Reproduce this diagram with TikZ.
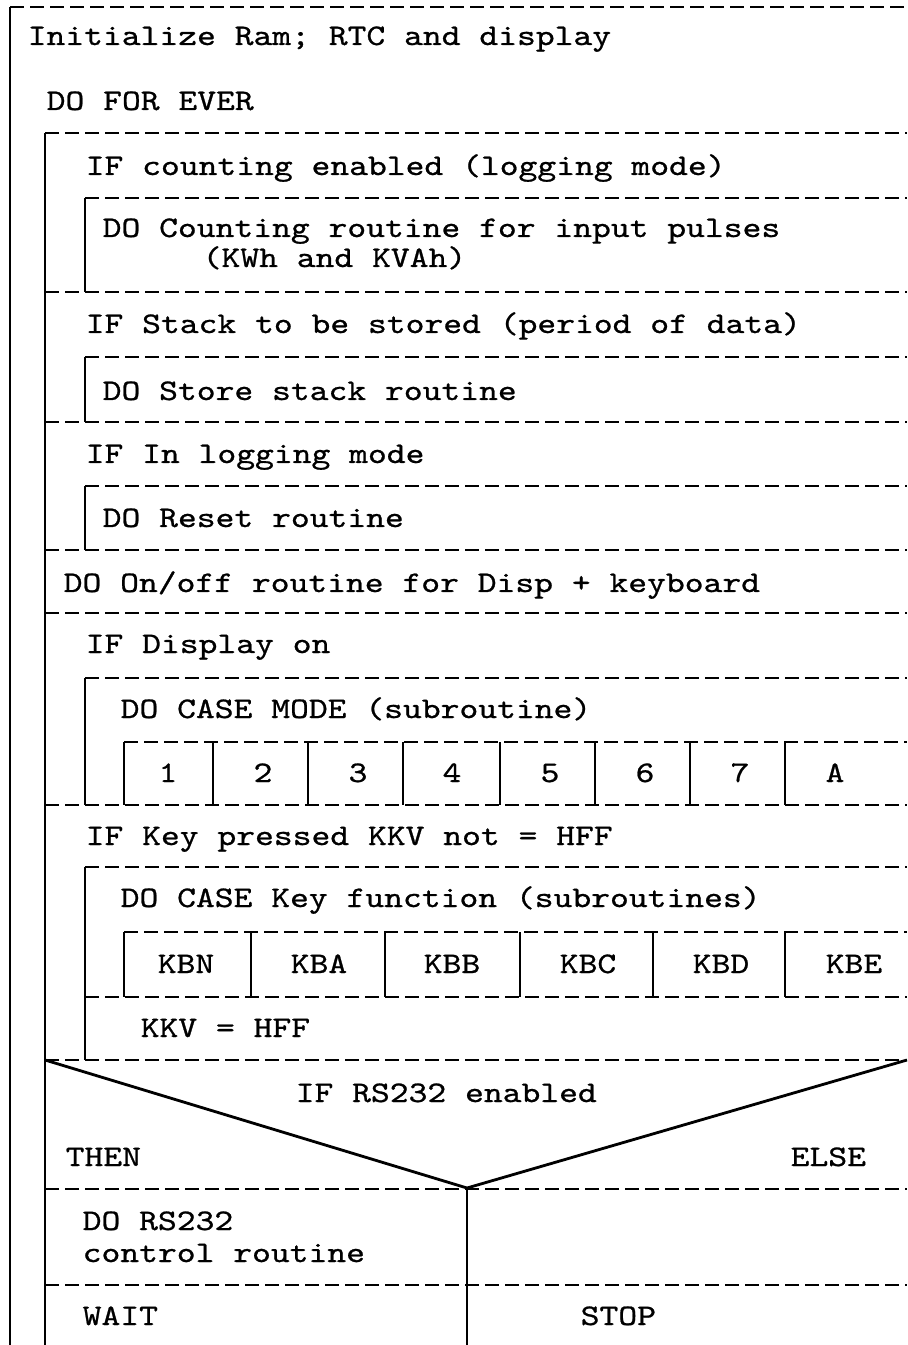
\documentclass[tikz,border=0pt]{standalone}
\usepackage{fontspec}
\setmonofont{lmmono10-regular}[Extension=.otf, FakeStretch=1.2, FakeBold=0.8]
\usetikzlibrary{positioning}

\begin{document}
\begin{tikzpicture}[
  x=0.1mm, y=-0.1mm,
  font=\ttfamily\fontsize{8.5pt}{9.1pt}\selectfont,
  txt/.style={anchor=base west, inner sep=0pt},
  lbl/.style={anchor=base, inner sep=0pt},
  rule/.style={line width=0.8pt},
  dl/.style={line width=0.7pt, dash pattern=on 1.4mm off 0.6mm}
]
\useasboundingbox (0,0) rectangle (907,1345);
\fill[white] (0,0) rectangle (907,1345);
% outer block
\draw[rule] (10,7) -- (10,1345);
\draw[dl] (10,7) -- (907,7);
\node[txt] (init) at (27,45) {Initialize Ram; RTC and display};
\node[txt] (ever) at (46,110) {DO FOR EVER};
% loop body
\draw[rule] (45,133) -- (45,1345);
\draw[dl] (45,133) -- (907,133);
\node[txt] (ifcount) at (85,175) {IF counting enabled (logging mode)};
\draw[dl] (85,198) -- (907,198);
\draw[rule] (85,198) -- (85,292);
\node[txt] (count) at (102,237) {DO Counting routine for input pulses};
\node[txt] (countb) at (202,267) {(KWh and KVAh)};
\draw[dl] (45,292) -- (907,292);
\node[txt] (ifstack) at (85,333) {IF Stack to be stored (period of data)};
\draw[dl] (85,357) -- (907,357);
\draw[rule] (85,357) -- (85,422);
\node[txt] (store) at (102,400) {DO Store stack routine};
\draw[dl] (45,422) -- (907,422);
\node[txt] (iflog) at (85,463) {IF In logging mode};
\draw[dl] (85,486) -- (907,486);
\draw[rule] (85,486) -- (85,550);
\node[txt] (reset) at (102,527) {DO Reset routine};
\draw[dl] (45,550) -- (907,550);
\node[txt] (onoff) at (63,592) {DO On/off routine for Disp + keyboard};
\draw[dl] (45,613) -- (907,613);
\node[txt] (ifdisp) at (85,653) {IF Display on};
\draw[dl] (85,678) -- (907,678);
\draw[rule] (85,678) -- (85,805);
\node[txt] (mode) at (120,718) {DO CASE MODE (subroutine)};
% mode cases
\draw[dl] (124,742) -- (907,742);
\draw[rule] (124,742) -- (124,805);
\draw[rule] (213,742) -- (213,805);
\draw[rule] (308,742) -- (308,805);
\draw[rule] (403,742) -- (403,805);
\draw[rule] (500,742) -- (500,805);
\draw[rule] (595,742) -- (595,805);
\draw[rule] (690,742) -- (690,805);
\draw[rule] (785,742) -- (785,805);
\node[lbl] (m1) at (168,782) {1};
\node[lbl] (m2) at (263,782) {2};
\node[lbl] (m3) at (358,782) {3};
\node[lbl] (m4) at (452,782) {4};
\node[lbl] (m5) at (550,782) {5};
\node[lbl] (m6) at (645,782) {6};
\node[lbl] (m7) at (740,782) {7};
\node[lbl] (mA) at (835,782) {A};
\draw[dl] (45,805) -- (907,805);
\node[txt] (ifkey) at (85,845) {IF Key pressed KKV not = HFF};
\draw[dl] (85,867) -- (907,867);
\draw[rule] (85,867) -- (85,1060);
\node[txt] (keyfn) at (120,907) {DO CASE Key function (subroutines)};
% key cases
\draw[dl] (124,932) -- (907,932);
\draw[rule] (124,932) -- (124,997);
\draw[rule] (251,932) -- (251,997);
\draw[rule] (385,932) -- (385,997);
\draw[rule] (520,932) -- (520,997);
\draw[rule] (653,932) -- (653,997);
\draw[rule] (785,932) -- (785,997);
\node[lbl] (kbn) at (186,973) {KBN};
\node[lbl] (kba) at (319,973) {KBA};
\node[lbl] (kbb) at (452,973) {KBB};
\node[lbl] (kbc) at (588,973) {KBC};
\node[lbl] (kbd) at (721,973) {KBD};
\node[lbl] (kbe) at (854,973) {KBE};
\draw[dl] (85,997) -- (907,997);
\node[txt] (kkv) at (140,1037) {KKV = HFF};
\draw[dl] (45,1060) -- (907,1060);
% if rs232
\draw[rule] (45,1060) -- (467,1188) -- (907,1060);
\node[txt] (ifrs) at (295,1102) {IF RS232 enabled};
\node[txt] (then) at (65,1166) {THEN};
\node[txt] (else) at (790,1166) {ELSE};
\draw[dl] (45,1189) -- (907,1189);
\draw[rule] (467,1188) -- (467,1345);
\node[txt] (rs) at (82,1230) {DO RS232};
\node[txt] (rsb) at (82,1262) {control routine};
\draw[dl] (45,1285) -- (907,1285);
\node[txt] (wait) at (82,1325) {WAIT};
\node[txt] (stop) at (580,1325) {STOP};
\end{tikzpicture}
\end{document}
